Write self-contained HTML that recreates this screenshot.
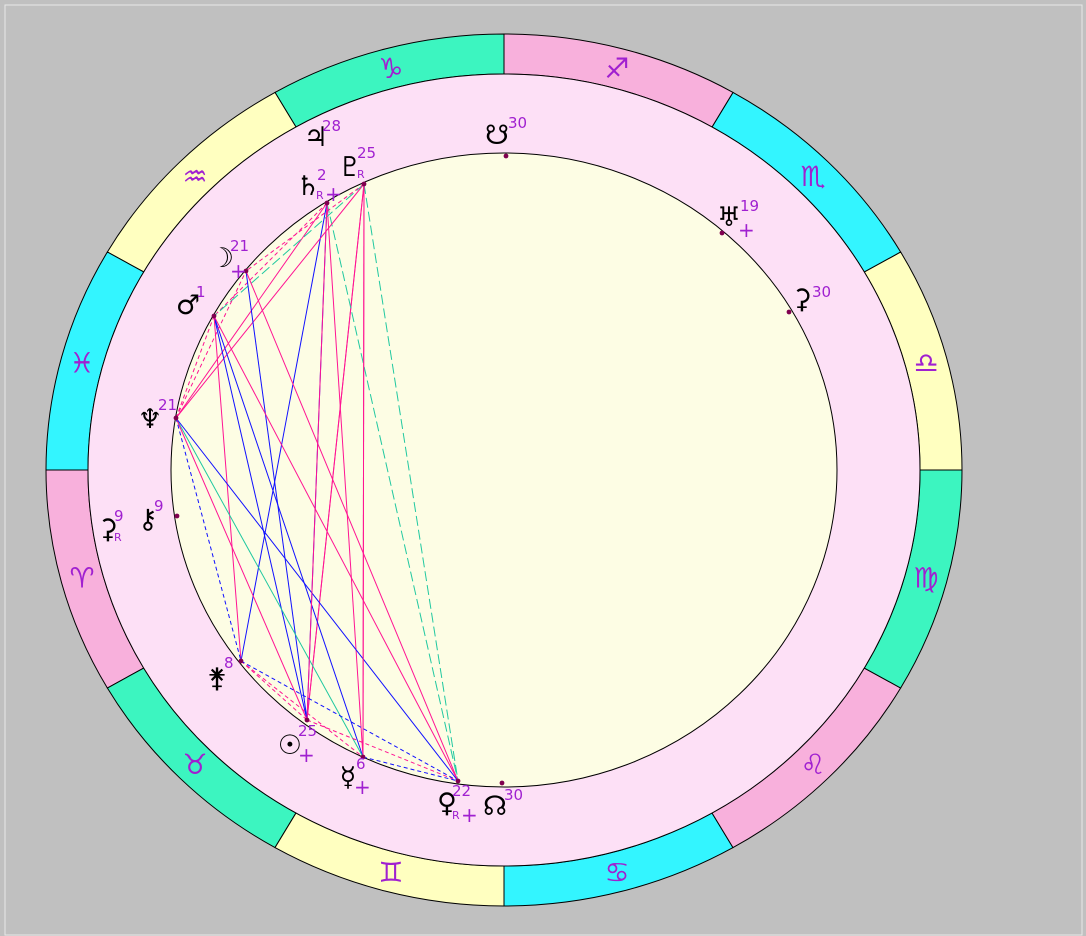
<!DOCTYPE html>
<html><head><meta charset="utf-8"><style>
html,body{margin:0;padding:0;background:#c0c0c0;width:1086px;height:936px;overflow:hidden}
svg{position:absolute;left:0;top:0}
text{font-family:"DejaVu Sans","Liberation Sans",sans-serif}
</style></head><body>
<svg id="s" width="1086" height="936" viewBox="0 0 1086 936" xmlns="http://www.w3.org/2000/svg">
<rect x="0" y="0" width="1086" height="936" fill="#c0c0c0"/>
<rect x="5" y="5" width="1077" height="930" fill="none" stroke="#e8e8e8" stroke-width="1"/>
<g id="wheel"></g>
<g id="lines"></g>
<g id="labels"></g>
</svg>
<script>
var NS="http://www.w3.org/2000/svg",cx=504,cy=470,sy=0.952;
function el(p,t,a,txt){var e=document.createElementNS(NS,t);for(var k in a)e.setAttribute(k,a[k]);if(txt)e.textContent=txt;document.getElementById(p).appendChild(e);return e;}
function pt(r,deg){var a=deg*Math.PI/180;return [cx+r*Math.cos(a),cy-r*sy*Math.sin(a)];}
var Ro=458,Ri=416,Rc=333;
var cols=["#ffffc0","#33f5ff","#f8b0dc","#3cf5c0"];
var glyphs=["♎","♏","♐","♑","♒","♓","♈","♉","♊","♋","♌","♍"];
for(var i=0;i<12;i++){
 var a0=i*30,a1=a0+30,p0=pt(Ro,a0),p1=pt(Ro,a1),q1=pt(Ri,a1),q0=pt(Ri,a0);
 var d="M"+p0+" A"+Ro+" "+(Ro*sy)+" 0 0 0 "+p1+" L"+q1+" A"+Ri+" "+(Ri*sy)+" 0 0 1 "+q0+" Z";
 el("wheel","path",{d:d,fill:cols[i%4],stroke:"#000","stroke-width":1});
 var m=pt(437,a0+15);
 el("wheel","text",{x:m[0],y:m[1]+10,"text-anchor":"middle","font-size":"28",fill:"#a020d0"},glyphs[i]);
}
el("wheel","ellipse",{cx:cx,cy:cy,rx:Ri,ry:Ri*sy,fill:"#fde0f6",stroke:"#000"});
el("wheel","ellipse",{cx:cx,cy:cy,rx:Rc,ry:Rc*sy,fill:"#fdfde4",stroke:"#000"});
var P={pl:[364,184],sa:[327,203],mo:[246,271],ma:[214,316],ne:[176,418],ch:[177,516],ve8:[241,661],su:[307,720],me:[363,757],vn:[458,781],nn:[502,783],sn:[506,156],ur:[722,233],ce:[789,312]};
var PK="#ff1493",BL="#1010ff",TL="#20c8a0";
var L=[["pl","su",PK],["pl","me",PK],["pl","su",PK],["pl","vn",TL,1],["sa","vn",TL,1],["sa","su",BL],["sa","me",PK],["sa","ve8",BL],["sa","ma",PK,1],["sa","ne",PK],["pl","ne",PK],["pl","ma",TL,1],["pl","mo",PK,1],["mo","su",BL],["mo","vn",PK],["ma","su",BL],["ma","me",BL],["ma","ve8",PK],["ma","vn",PK],["ne","mo",PK,1],["ne","me",TL],["ne","vn",BL],["ne","su",PK],["ne","ve8",BL,1],["ve8","su",PK,1],["ve8","me",PK,1],["su","vn",PK,1],["me","vn",BL,1],["ve8","vn",BL,1],["sa","su",PK],["pl","me",PK],["ne","ma",PK,1]];
L.forEach(function(l){var a=P[l[0]],b=P[l[1]];var o={x1:a[0],y1:a[1],x2:b[0],y2:b[1],stroke:l[2],"stroke-width":1};if(l[3])o["stroke-dasharray"]=l[2]==TL?"10,4":"4,3";el("lines","line",o);});
for(var k in P)el("lines","circle",{cx:P[k][0],cy:P[k][1],r:2.4,fill:"#800050"});
var PU="#a020d0";
function g(x,y,s,sz){el("labels","text",{x:x,y:y,"font-size":sz||27,fill:"#000","text-anchor":"middle","font-weight":"bold"},s);}
function n(x,y,s,sz){el("labels","text",{x:x,y:y,"font-size":sz||15,fill:PU},s);}
g(316,146,"♃");n(322,131,"28");
g(308,195,"♄");n(317,180,"2");n(316,199,"R",11);n(325,201,"+",20);
g(350,176,"♇");n(357,158,"25");n(357,178,"R",11);
g(497,144,"☋");n(508,128,"30");
g(729,226,"♅");n(740,211,"19");n(738,237,"+",20);
g(802,308,"⚳");n(812,297,"30");
g(222,267,"☽");n(230,251,"21");n(230,278,"+",20);
g(188,314,"♂");n(196,297,"1");
g(150,428,"♆");n(158,410,"21");
g(148,528,"⚷");n(154,511,"9");
g(108,538,"⚳");n(114,521,"9");n(114,541,"R",11);
g(217,687,"⚵");n(224,668,"8");
g(290,754,"☉");n(298,736,"25");n(298,762,"+",20);
g(348,786,"☿");n(356,769,"6");n(354,794,"+",20);
g(447,812,"♀");n(452,796,"22");n(452,819,"R",11);n(461,822,"+",20);
g(495,815,"☊");n(504,800,"30");
</script>
</body></html>
